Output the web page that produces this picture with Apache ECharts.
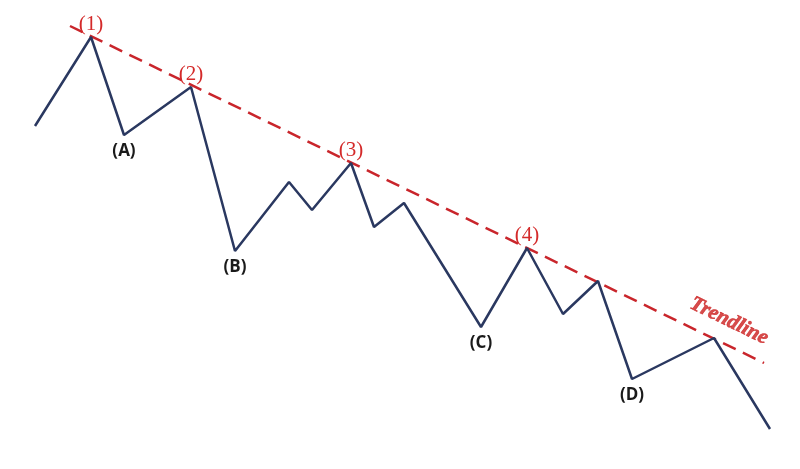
<!DOCTYPE html>
<html>
<head>
<meta charset="utf-8">
<script src="https://cdn.jsdelivr.net/npm/echarts@6/dist/echarts.min.js"></script>
<style>
    html, body { margin: 0; padding: 0; background: #fff; }
    #chart { width: 800px; height: 469px; }
</style>
</head>
<body>
<div id="chart"></div>
<script>
// price path (x position, price level; price = 469 - screen y)
var pathX = [35, 91, 124, 191, 235, 289, 312, 351, 374, 404, 481, 527, 563, 598, 632, 714, 770];
var pathY = [343, 432, 334, 382, 218, 287, 259, 306, 242, 266, 142, 221, 155, 188, 90, 131, 40];
// which points carry a label, and what it says
var pathLabels = ['', '(1)', '(A)', '(2)', '(B)', '', '', '(3)', '', '', '(C)', '(4)', '', '', '(D)', '', ''];

// trendline end points
var trendX = [70, 764];
var trendY = [443, 106];
var trendText = 'Trendline';
var trendTextAt = [729, 148];

var myChart = echarts.init(document.getElementById('chart'));

var lineData = pathX.map(function (x, i) {
    var lab = pathLabels[i];
    var item = { value: [x, pathY[i]] };
    if (lab) {
        var peak = /\d/.test(lab);
        item.label = peak ? {
            show: true,
            position: 'top',
            distance: 2,
            formatter: lab,
            color: '#d42a2a',
            fontFamily: 'Liberation Serif',
            fontSize: 21
        } : {
            show: true,
            position: 'bottom',
            distance: 8,
            formatter: lab,
            color: '#1a1a1a',
            fontFamily: 'Open Sans',
            fontWeight: 'bold',
            fontSize: 17
        };
    }
    return item;
});

var option = {
    animation: false,
    backgroundColor: '#ffffff',
    grid: { left: 0, right: 0, top: 0, bottom: 0 },
    xAxis: { type: 'value', min: 0, max: 800, show: false },
    yAxis: { type: 'value', min: 0, max: 469, show: false },
    series: [
        {
            type: 'line',
            data: trendX.map(function (x, i) { return [x, trendY[i]]; }),
            symbol: 'none',
            lineStyle: { color: '#c9252b', width: 2.5, type: [14, 8] },
            z: 1
        },
        {
            type: 'line',
            data: lineData,
            symbol: 'circle',
            symbolSize: 0,
            lineStyle: { color: '#2a3860', width: 2.5 },
            label: { show: false },
            z: 2
        },
        {
            type: 'scatter',
            data: [trendTextAt],
            symbolSize: 0,
            label: {
                show: true,
                position: 'inside',
                formatter: trendText,
                rotate: -26,
                color: '#cc1f1f',
                fontFamily: 'Liberation Serif',
                fontStyle: 'italic',
                fontWeight: 900,
                fontSize: 21,
                textBorderColor: '#cc1f1f',
                textBorderWidth: 0.6
            },
            z: 3
        }
    ]
};
option && myChart.setOption(option);
</script>
</body>
</html>
